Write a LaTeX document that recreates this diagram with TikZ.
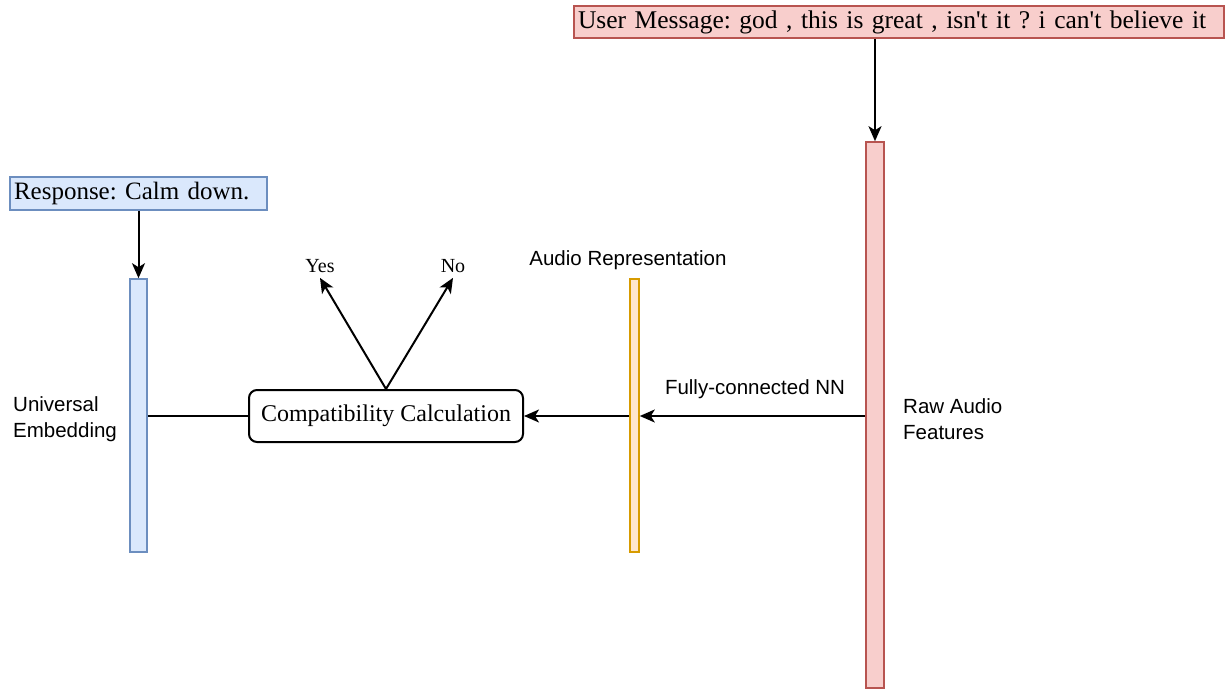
\documentclass[tikz,border=0pt]{standalone}
\usepackage{fontspec}
\setmainfont{Liberation Serif}
\setsansfont{Liberation Sans}
\usetikzlibrary{arrows.meta}
\frenchspacing
\definecolor{pinkfill}{HTML}{F8CECC}
\definecolor{pinkline}{HTML}{B85450}
\definecolor{bluefill}{HTML}{DAE8FC}
\definecolor{blueline}{HTML}{6C8EBF}
\definecolor{orfill}{HTML}{FFE6CC}
\definecolor{orline}{HTML}{D79B00}
\tikzset{
  pinkbox/.style={draw=pinkline, fill=pinkfill, line width=1.6pt, inner sep=0pt},
  bluebox/.style={draw=blueline, fill=bluefill, line width=1.6pt, inner sep=0pt},
  orbox/.style={draw=orline, fill=orfill, line width=1.6pt, inner sep=0pt},
  arr/.style={line width=2pt, -{Stealth[length=15pt,width=13pt,inset=4pt]}},
  plain/.style={line width=2pt},
  sanslab/.style={font=\sffamily\fontsize{20.5}{26}\selectfont, inner sep=0pt, align=left},
  seriflab/.style={font=\fontsize{20}{22}\selectfont, inner sep=0pt},
}
\begin{document}
\begin{tikzpicture}[x=1pt,y=-1pt]
\useasboundingbox (0,0) rectangle (1226,690);
% boxes
\node[pinkbox, minimum width=650, minimum height=32, text width=642, align=left,
      font=\fontsize{25.5}{27}\selectfont] (user) at (899,22)
      {User Message: god , this is great , isn\textquotesingle t it ? i can\textquotesingle t believe it};
\node[bluebox, minimum width=257, minimum height=33, text width=249, align=left,
      font=\fontsize{25}{27}\selectfont] (resp) at (138.5,193.5) {Response: Calm down.};
% bars
\node[pinkbox, minimum width=18, minimum height=546] (raw) at (875,415) {};
\node[bluebox, minimum width=17, minimum height=273] (univ) at (138.5,415.5) {};
\node[orbox, minimum width=9, minimum height=273] (audio) at (634.5,415.5) {};
% compat
\node[draw, line width=2pt, rounded corners=8pt, minimum width=274, minimum height=52,
      inner sep=0pt, font=\fontsize{24}{26}\selectfont] (compat) at (386,416) {Compatibility Calculation};
% labels
\node[seriflab] (yes) at (320,266) {Yes};
\node[seriflab] (no) at (453,266) {No};
\node[sanslab] (audlab) at (628,260) {Audio Representation};
\node[sanslab, anchor=west] (rawlab) at (903,419) {Raw Audio\\Features};
\node[sanslab, anchor=west] (univlab) at (13,419) {Universal\\Embedding};
\node[sanslab] (fclab) at (755,389) {Fully-connected NN};
% connectors
\draw[arr] (user.south -| raw.north) -- (raw.north);
\draw[arr] (resp.south) -- (univ.north);
\draw[plain] (univ.east |- compat.west) -- (compat.west);
\draw[arr] (raw.west |- compat.east) -- (audio.east |- compat.east);
\draw[arr] (audio.west |- compat.east) -- (compat.east);
\draw[arr] (compat.north) -- ([yshift=-5pt]yes.south);
\draw[arr] (compat.north) -- ([yshift=-5pt]no.south);
\end{tikzpicture}
\end{document}
